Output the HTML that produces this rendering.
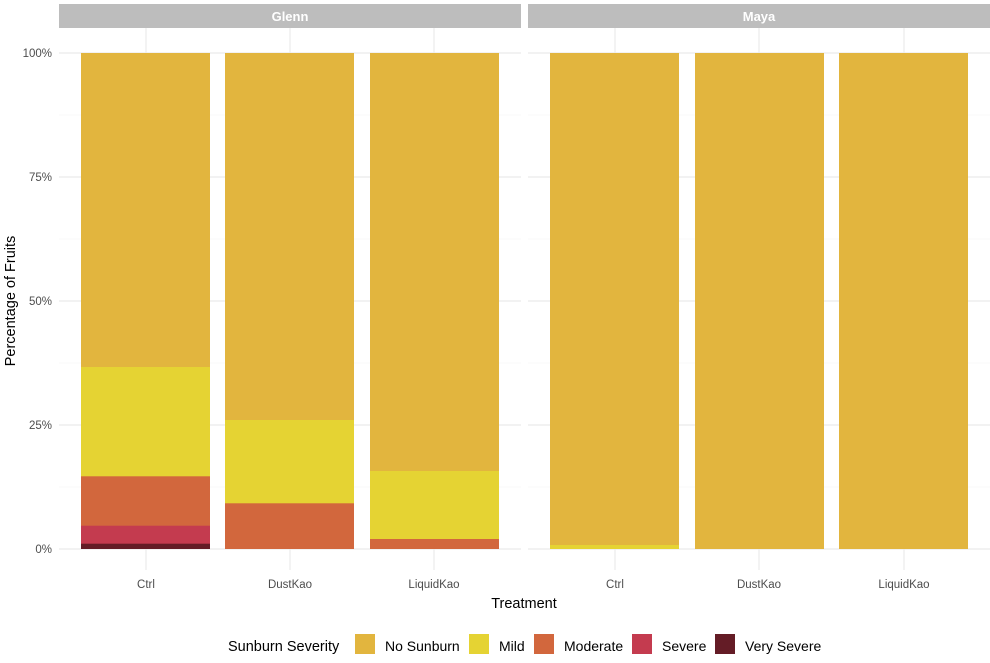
<!DOCTYPE html><html><head><style>body{margin:0;background:#fff}svg text{font-family:"Liberation Sans",sans-serif}</style></head><body>
<svg width="990" height="658" xmlns="http://www.w3.org/2000/svg">
<rect width="990" height="658" fill="#fff"/>
<rect x="59" y="4" width="462" height="24" fill="#bdbdbd"/>
<rect x="528" y="4" width="462" height="24" fill="#bdbdbd"/>
<text x="290" y="21" text-anchor="middle" font-size="13" font-weight="bold" fill="#fff">Glenn</text>
<text x="759" y="21" text-anchor="middle" font-size="13" font-weight="bold" fill="#fff">Maya</text>
<g stroke="#ebebeb" stroke-width="1.2">
<line x1="59" x2="521" y1="53" y2="53"/><line x1="59" x2="521" y1="177" y2="177"/><line x1="59" x2="521" y1="301" y2="301"/><line x1="59" x2="521" y1="425" y2="425"/><line x1="59" x2="521" y1="549" y2="549"/>
<line x1="528" x2="990" y1="53" y2="53"/><line x1="528" x2="990" y1="177" y2="177"/><line x1="528" x2="990" y1="301" y2="301"/><line x1="528" x2="990" y1="425" y2="425"/><line x1="528" x2="990" y1="549" y2="549"/>
<line x1="146" x2="146" y1="28" y2="570"/><line x1="290" x2="290" y1="28" y2="570"/><line x1="434" x2="434" y1="28" y2="570"/>
<line x1="615" x2="615" y1="28" y2="570"/><line x1="759" x2="759" y1="28" y2="570"/><line x1="904" x2="904" y1="28" y2="570"/>
</g>
<g stroke="#f4f4f4" stroke-width="0.6">
<line x1="59" x2="521" y1="115" y2="115"/><line x1="59" x2="521" y1="239" y2="239"/><line x1="59" x2="521" y1="363" y2="363"/><line x1="59" x2="521" y1="487" y2="487"/>
<line x1="528" x2="990" y1="115" y2="115"/><line x1="528" x2="990" y1="239" y2="239"/><line x1="528" x2="990" y1="363" y2="363"/><line x1="528" x2="990" y1="487" y2="487"/>
</g>
<!-- Glenn Ctrl -->
<rect x="81" y="53" width="129" height="496" fill="#E2B53E"/>
<rect x="81" y="367" width="129" height="182" fill="#E5D333"/>
<rect x="81" y="476.3" width="129" height="72.7" fill="#D2673D"/>
<rect x="81" y="525.7" width="129" height="23.3" fill="#C43B4F"/>
<rect x="81" y="543.7" width="129" height="5.3" fill="#641C26"/>
<!-- DustKao -->
<rect x="225" y="53" width="129" height="496" fill="#E2B53E"/>
<rect x="225" y="420" width="129" height="129" fill="#E5D333"/>
<rect x="225" y="503.3" width="129" height="45.7" fill="#D2673D"/>
<!-- LiquidKao -->
<rect x="370" y="53" width="129" height="496" fill="#E2B53E"/>
<rect x="370" y="471" width="129" height="78" fill="#E5D333"/>
<rect x="370" y="539" width="129" height="10" fill="#D2673D"/>
<!-- Maya -->
<rect x="550" y="53" width="129" height="496" fill="#E2B53E"/>
<rect x="550" y="545" width="129" height="4" fill="#E5D333"/>
<rect x="695" y="53" width="129" height="496" fill="#E2B53E"/>
<rect x="839" y="53" width="129" height="496" fill="#E2B53E"/>
<g font-size="11.5" fill="#4d4d4d" text-anchor="end">
<text x="52" y="57">100%</text><text x="52" y="181">75%</text><text x="52" y="305">50%</text><text x="52" y="429">25%</text><text x="52" y="553">0%</text>
</g>
<g font-size="11.5" fill="#4d4d4d" text-anchor="middle">
<text x="146" y="588">Ctrl</text><text x="290" y="588">DustKao</text><text x="434" y="588">LiquidKao</text>
<text x="615" y="588">Ctrl</text><text x="759" y="588">DustKao</text><text x="904" y="588">LiquidKao</text>
</g>
<text x="524" y="608" text-anchor="middle" font-size="14.5" fill="#000">Treatment</text>
<text transform="translate(15,301) rotate(-90)" text-anchor="middle" font-size="14.5" fill="#000">Percentage of Fruits</text>
<text x="228" y="651" font-size="14.5" fill="#000">Sunburn Severity</text>
<rect x="355" y="634" width="20" height="20" fill="#E2B53E"/><text x="385" y="651" font-size="14" fill="#000">No Sunburn</text>
<rect x="469" y="634" width="20" height="20" fill="#E5D333"/><text x="499" y="651" font-size="14" fill="#000">Mild</text>
<rect x="534" y="634" width="20" height="20" fill="#D2673D"/><text x="564" y="651" font-size="14" fill="#000">Moderate</text>
<rect x="632" y="634" width="20" height="20" fill="#C43B4F"/><text x="662" y="651" font-size="14" fill="#000">Severe</text>
<rect x="715" y="634" width="20" height="20" fill="#641C26"/><text x="745" y="651" font-size="14" fill="#000">Very Severe</text>
</svg>
</body></html>
